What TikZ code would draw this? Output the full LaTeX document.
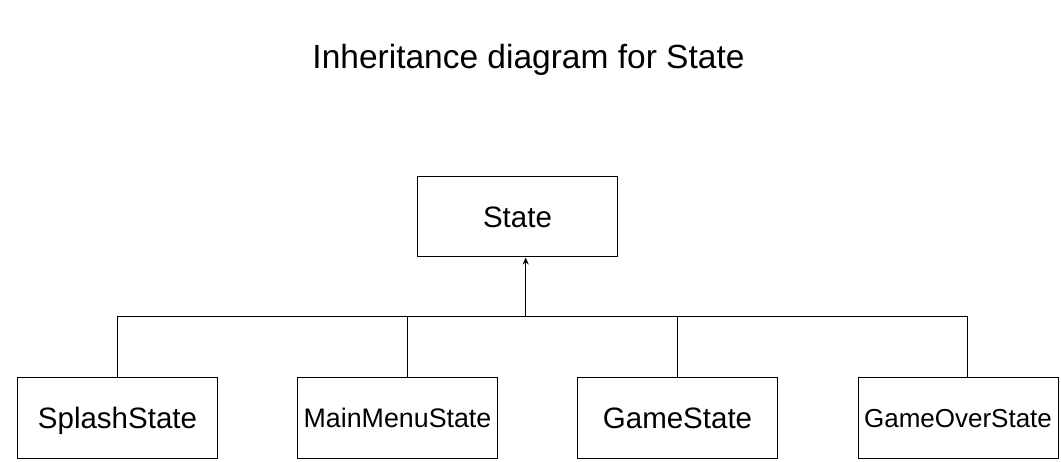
\documentclass[tikz,border=0pt]{standalone}
\usepackage{fontspec}
\setmainfont{Liberation Sans}
\usetikzlibrary{arrows.meta}
\begin{document}
\begin{tikzpicture}[x=1pt,y=-1pt,
  cls/.style={draw, line width=1pt, minimum width=200pt, minimum height=80pt, inner sep=0pt, anchor=center, text height=21pt, text depth=0pt},
  small/.style={text height=19.2pt},
  link/.style={line width=1pt}]
\useasboundingbox (0,0) rectangle (1061,462);
\node[text height=24pt, text depth=0pt] (title) at (528.5,57) {\fontsize{33.5}{40}\selectfont Inheritance diagram for State};
\node[cls] (state) at (517.5,217) {\fontsize{29.5}{35}\selectfont State};
\node[cls] (splash) at (117.5,418) {\fontsize{29.5}{35}\selectfont SplashState};
\node[cls, small] (mainmenu) at (397.5,418) {\fontsize{26.8}{32}\selectfont MainMenuState};
\node[cls] (game) at (677.5,418) {\fontsize{29.5}{35}\selectfont GameState};
\node[cls, small] (gameover) at (958,418) {\fontsize{26}{31}\selectfont GameOverState};
\coordinate (bus) at (525.7,317);
\coordinate (mmtop) at ([xshift=10pt]mainmenu.north);
\coordinate (gotop) at ([xshift=9pt]gameover.north);
\draw[link] (splash.north) -- (splash.north |- bus) -- (gotop |- bus) -- (gotop);
\draw[link] (mmtop) -- (mmtop |- bus);
\draw[link] (game.north) -- (game.north |- bus);
\draw[link, -{Stealth[length=7pt,width=6pt]}] (bus) -- (bus |- state.south);
\end{tikzpicture}
\end{document}
